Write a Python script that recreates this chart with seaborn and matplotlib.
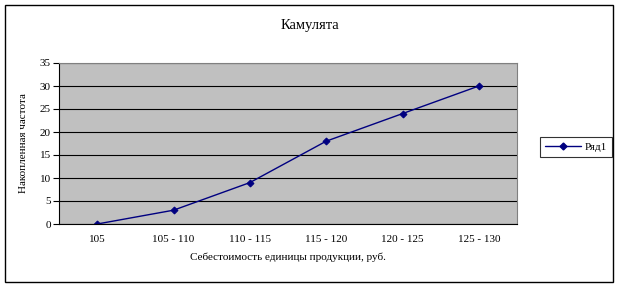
import matplotlib
matplotlib.use("Agg")
import matplotlib.pyplot as plt
import seaborn as sns
import pandas as pd
from matplotlib.patches import Rectangle
from matplotlib.lines import Line2D

categories = ["105", "105 - 110", "110 - 115", "115 - 120", "120 - 125", "125 - 130"]
values = [0, 3, 9, 18, 24, 30]
series_name = "Ряд1"

sns.set_style("white")
plt.rcParams['font.family'] = ['Liberation Serif', 'DejaVu Serif']
plt.rcParams['text.color'] = 'black'
plt.rcParams['axes.labelcolor'] = 'black'
plt.rcParams['xtick.color'] = 'black'
plt.rcParams['ytick.color'] = 'black'

W, H = 620, 288
fig = plt.figure(figsize=(W/100, H/100), dpi=100)
ax = fig.add_axes([59/W, 1-224/H, (517-59)/W, (224-63)/H])

df = pd.DataFrame({"pos": range(len(categories)), "val": values})
navy = "#000080"
sns.lineplot(data=df, x="pos", y="val", ax=ax, color=navy, marker="D",
             markersize=3.5, markeredgecolor=navy, linewidth=1)

ax.set_facecolor("#C0C0C0")
ax.set_xlim(-0.5, len(categories) - 0.5)
ax.set_ylim(0, 35)
ax.set_yticks(range(0, 36, 5))
ax.yaxis.grid(True, color="black", linewidth=0.8)
ax.set_axisbelow(True)
ax.set_xticks([i - 0.5 for i in range(len(categories) + 1)])
ax.set_xticklabels([])
ax.set_xticks(range(len(categories)), minor=True)
ax.set_xticklabels(categories, minor=True)
ax.tick_params(axis="x", which="major", length=4, width=0.8, color="black", direction="out")
ax.tick_params(axis="x", which="minor", length=0, labelsize=8, pad=8)
ax.tick_params(axis="y", length=4, width=0.8, color="black", direction="out", labelsize=8, left=True, pad=2)
for s in ["top", "right"]:
    ax.spines[s].set_visible(True)
    ax.spines[s].set_color("#808080")
    ax.spines[s].set_linewidth(0.8)
for s in ["left", "bottom"]:
    ax.spines[s].set_color("black")
    ax.spines[s].set_linewidth(0.8)

ax.set_xlabel("Себестоимость единицы продукции, руб.", fontsize=8, labelpad=6)
ax.set_ylabel("Накопленная частота", fontsize=8, labelpad=8)
fig.text(310/W, 1-25/H, "Камулята", ha="center", va="center", fontsize=10.5)

handle = Line2D([], [], color=navy, marker="D", markersize=3.5, linewidth=1)
leg = fig.legend([handle], [series_name], loc="center", bbox_to_anchor=(576/W, 1-147/H),
                 fontsize=8, frameon=True, fancybox=False, handlelength=3.2, borderpad=0.5,
                 handletextpad=0.3, labelcolor="black")
leg.get_frame().set_edgecolor("black")
leg.get_frame().set_linewidth(0.8)

fig.patches.append(Rectangle((5/W, 6/H), 608/W, 277/H, transform=fig.transFigure,
                             fill=False, edgecolor="black", linewidth=1))

fig.savefig("out.png", dpi=100)
